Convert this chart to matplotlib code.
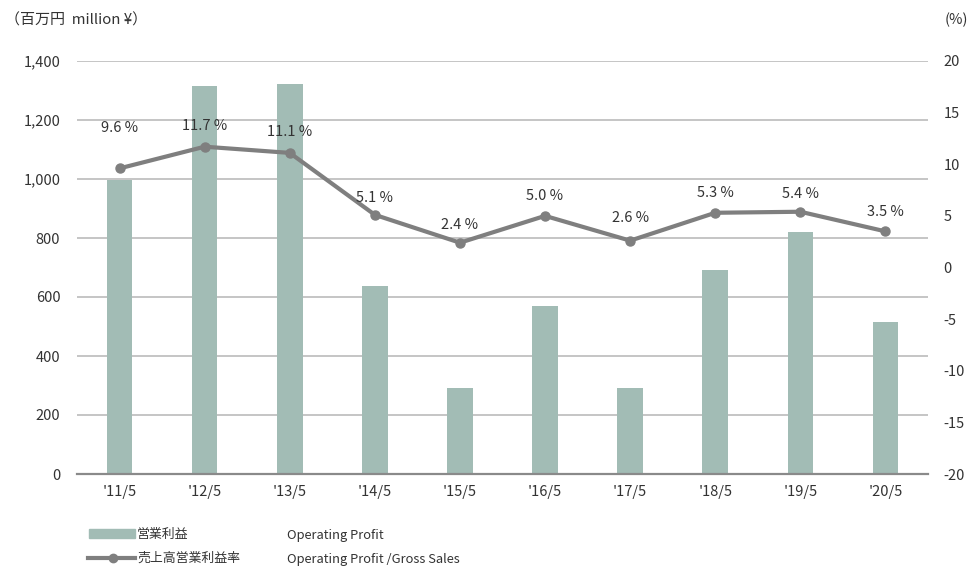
import matplotlib
matplotlib.use('Agg')
from matplotlib import pyplot as plt
from matplotlib.lines import Line2D
from matplotlib.patches import Rectangle

plt.rcParams['font.family'] = ['Noto Sans CJK JP', 'DejaVu Sans']
plt.rcParams['axes.unicode_minus'] = False

# data
years = ["'11/5", "'12/5", "'13/5", "'14/5", "'15/5", "'16/5", "'17/5", "'18/5", "'19/5", "'20/5"]
op_profit = [997, 1315, 1322, 637, 291, 569, 291, 691, 820, 515]
op_margin = [9.6, 11.7, 11.1, 5.1, 2.4, 5.0, 2.6, 5.3, 5.4, 3.5]
label_offset = [29, 15, 15, 12, 13, 14, 16, 14, 13, 14]  # points above marker (text centre)

bar_color = '#a2bcb5'
line_color = '#7f7f7f'
txt = '#333333'

fig = plt.figure(figsize=(9.72, 5.68), dpi=100)
ax = fig.add_axes([77/972, 1-474/568, (928-77)/972, (474-61)/568])
x = range(len(years))

ax.bar(x, op_profit, width=0.3, color=bar_color, zorder=2)
ax.set_ylim(0, 1400)
ax.set_xlim(-0.5, len(years)-0.5)
ax.set_yticks(range(0, 1401, 200))
ax.set_yticklabels(['{:,}'.format(v) for v in range(0, 1401, 200)])
ax.set_xticks(list(x))
ax.set_xticklabels(years)
ax.yaxis.grid(True, color='#c0c0c0', lw=1.3, zorder=0)
ax.set_axisbelow(True)
for sp in ['top', 'right', 'left']:
    ax.spines[sp].set_visible(False)
ax.spines['bottom'].set_color('#8a8a8a')
ax.spines['bottom'].set_linewidth(1.6)
ax.tick_params(axis='both', length=0, labelsize=10.5, colors=txt)
ax.tick_params(axis='y', pad=12)
ax.tick_params(axis='x', pad=8)

ax2 = ax.twinx()
ax2.plot(x, op_margin, color=line_color, lw=3, marker='o', ms=6.5, zorder=3)
ax2.set_ylim(-20, 20)
ax2.set_yticks(range(-20, 21, 5))
for sp in ['top', 'right', 'left', 'bottom']:
    ax2.spines[sp].set_visible(False)
ax2.tick_params(axis='y', length=0, labelsize=10.5, colors=txt, pad=11)

for i, v in enumerate(op_margin):
    ax2.annotate('{:.1f} %'.format(v), (i, v), xytext=(0, label_offset[i]),
                 textcoords='offset points', ha='center', va='center',
                 fontsize=10.5, color=txt)

fig.text(5/972, 1-20/568, '（百万円  million ¥）', fontsize=10.8, color=txt, va='center')
fig.text(945/972, 1-20/568, '(%)', fontsize=10.5, color=txt, va='center')

# legend drawn by hand, as in the original layout
fig.patches.append(Rectangle((89/972, 1-538/568), 46/972, 9/568, color=bar_color,
                             transform=fig.transFigure, figure=fig))
fig.lines.append(Line2D([88/972, 135/972], [1-558/568, 1-558/568], color=line_color, lw=3,
                        transform=fig.transFigure, figure=fig))
fig.lines.append(Line2D([113/972], [1-558/568], color=line_color, marker='o', ms=6,
                        transform=fig.transFigure, figure=fig))
fig.text(137/972, 1-534/568, '営業利益', fontsize=9.3, color=txt, va='center')
fig.text(137/972, 1-558/568, '売上高営業利益率', fontsize=9.3, color=txt, va='center')
fig.text(287/972, 1-536/568, 'Operating Profit', fontsize=9.3, color=txt, va='center')
fig.text(287/972, 1-559/568, 'Operating Profit /Gross Sales', fontsize=9.3, color=txt, va='center')

fig.savefig('out.png', dpi=100)
